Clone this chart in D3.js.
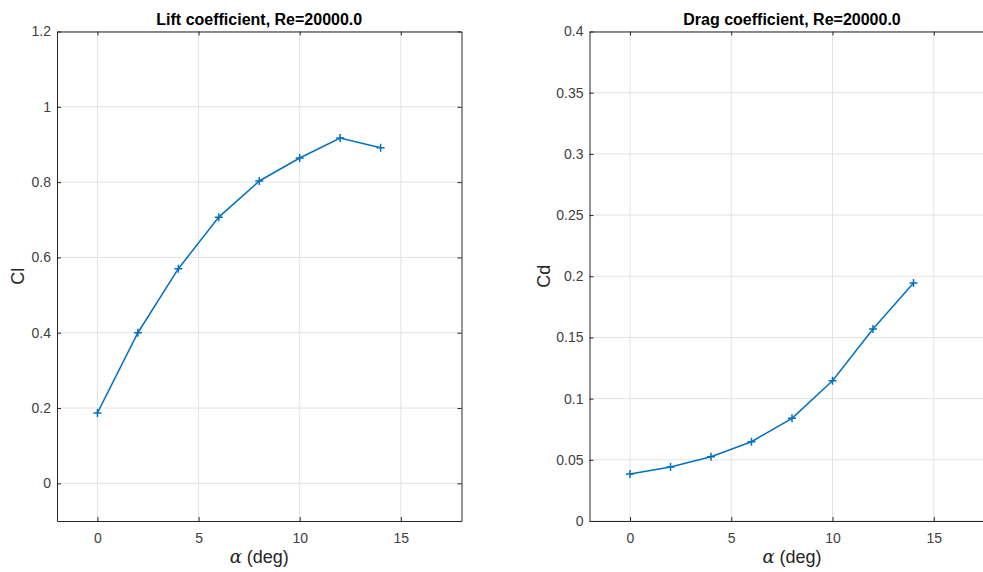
<!DOCTYPE html>
<html>
<head>
<meta charset="utf-8">
<script src="https://d3js.org/d3.v7.min.js"></script>
<style>
  body { margin: 0; background: #fff; }
  text { font-family: "Liberation Sans", Arial, Helvetica, sans-serif; }
</style>
</head>
<body>
<svg id="chart" width="983" height="572"></svg>
<script>
// data
var alpha = [0, 2, 4, 6, 8, 10, 12, 14];
var cl = [0.187, 0.400, 0.570, 0.707, 0.803, 0.864, 0.917, 0.891];
var cd = [0.0384, 0.0441, 0.0525, 0.0648, 0.0839, 0.1146, 0.1569, 0.1944];
var xTicks = [0, 5, 10, 15];
var clTicks = [0, 0.2, 0.4, 0.6, 0.8, 1, 1.2];
var cdTicks = [0, 0.05, 0.1, 0.15, 0.2, 0.25, 0.3, 0.35, 0.4];

var svg = d3.select("#chart");
var axColor = "#262626";
var gridColor = "#e3e3e3";
var lineColor = "#0072BD";

function panel(opt) {
  var x = d3.scaleLinear().domain([-2, 18]).range([opt.left, opt.left + opt.width]);
  var y = d3.scaleLinear().domain(opt.ydom).range([opt.top + opt.height, opt.top]);
  var g = svg.append("g");

  // grid
  g.selectAll(".gx").data(xTicks).enter().append("line")
    .attr("x1", d => x(d)).attr("x2", d => x(d))
    .attr("y1", opt.top).attr("y2", opt.top + opt.height)
    .attr("stroke", gridColor).attr("stroke-width", 1);
  g.selectAll(".gy").data(opt.yticks).enter().append("line")
    .attr("x1", opt.left).attr("x2", opt.left + opt.width)
    .attr("y1", d => y(d)).attr("y2", d => y(d))
    .attr("stroke", gridColor).attr("stroke-width", 1);

  // axes (ticks inward, box on)
  var bottom = g.append("g").attr("transform", "translate(0," + (opt.top + opt.height) + ")")
    .call(d3.axisBottom(x).tickValues(xTicks).tickSizeInner(-4).tickSizeOuter(0).tickPadding(12));
  var top = g.append("g").attr("transform", "translate(0," + opt.top + ")")
    .call(d3.axisTop(x).tickValues(xTicks).tickSizeInner(-4).tickSizeOuter(0).tickFormat(""));
  var left = g.append("g").attr("transform", "translate(" + opt.left + ",0)")
    .call(d3.axisLeft(y).tickValues(opt.yticks).tickSizeInner(-4).tickSizeOuter(0).tickPadding(6).tickFormat(d3.format("~g")));
  var right = g.append("g").attr("transform", "translate(" + (opt.left + opt.width) + ",0)")
    .call(d3.axisRight(y).tickValues(opt.yticks).tickSizeInner(-4).tickSizeOuter(0).tickFormat(""));
  [bottom, top, left, right].forEach(function (a) {
    a.select(".domain").attr("stroke", axColor).attr("stroke-width", 1);
    a.selectAll(".tick line").attr("stroke", axColor);
    a.selectAll(".tick text").attr("fill", "#404040").style("font-size", "14px")
      .style("font-family", "'Liberation Sans', Arial, sans-serif");
  });

  // data line
  var pts = alpha.map((a, i) => [a, opt.vals[i]]);
  g.append("path").datum(pts)
    .attr("fill", "none").attr("stroke", lineColor).attr("stroke-width", 1.5)
    .attr("d", d3.line().x(d => x(d[0])).y(d => y(d[1])));
  var m = 4;
  g.selectAll(".mk").data(pts).enter().append("path")
    .attr("stroke", lineColor).attr("stroke-width", 1.5).attr("fill", "none")
    .attr("d", d => {
      var px = x(d[0]), py = y(d[1]);
      return "M" + (px - m) + "," + py + "H" + (px + m) + "M" + px + "," + (py - m) + "V" + (py + m);
    });

  // title
  g.append("text").attr("x", opt.left + opt.width / 2).attr("y", opt.top - 7)
    .attr("text-anchor", "middle").style("font-weight", "bold").style("font-size", "16px")
    .attr("fill", "#000").text(opt.title);

  // x label
  var xl = g.append("text").attr("x", opt.left + opt.width / 2).attr("y", opt.top + opt.height + 42)
    .attr("text-anchor", "middle").style("font-size", "18px").attr("fill", axColor);
  xl.append("tspan").style("font-family", "'DejaVu Serif', 'Liberation Serif', serif")
    .style("font-style", "italic").text("\u03b1");
  xl.append("tspan").text(" (deg)");

  // y label
  g.append("text")
    .attr("transform", "translate(" + opt.ylabX + "," + (opt.top + opt.height / 2) + ") rotate(-90)")
    .attr("text-anchor", "middle").style("font-size", "18px").attr("fill", axColor)
    .text(opt.ylabel);
}

panel({
  left: 57, top: 31.5, width: 404.5, height: 489.5,
  ydom: [-0.1, 1.2], yticks: clTicks, vals: cl,
  title: "Lift coefficient, Re=20000.0", ylabel: "Cl", ylabX: 24
});
panel({
  left: 589.5, top: 31.5, width: 405, height: 489.5,
  ydom: [0, 0.4], yticks: cdTicks, vals: cd,
  title: "Drag coefficient, Re=20000.0", ylabel: "Cd", ylabX: 550
});
</script>
</body>
</html>
